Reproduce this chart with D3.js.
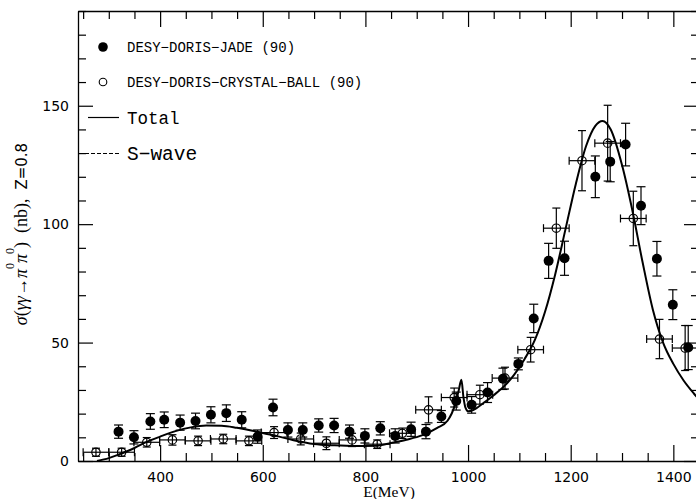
<!DOCTYPE html>
<html>
<head>
<meta charset="utf-8">
<script src="https://cdn.jsdelivr.net/npm/d3@7"></script>
<style>
  body { margin: 0; background: #fff; }
  svg { display: block; }
</style>
</head>
<body>
<svg id="chart" width="696" height="499"></svg>
<script>
// JADE (filled circles)
const jadeE = [319, 349, 381, 408, 439, 469, 499, 529, 559, 590, 620, 649, 678, 709, 739, 769, 799, 829, 858, 889, 918, 948, 977, 1007, 1038, 1068, 1098, 1128, 1157, 1188, 1248, 1277, 1307, 1337, 1368, 1399, 1429];
const jadeV = [12.4, 10.0, 16.7, 17.4, 16.2, 16.9, 19.5, 20.2, 17.4, 10.3, 22.6, 13.1, 13.1, 15.0, 15.0, 12.4, 10.6, 13.8, 10.6, 13.4, 12.4, 18.8, 25.3, 23.7, 28.9, 34.7, 41.0, 60.2, 84.5, 85.6, 120.0, 126.4, 133.6, 107.8, 85.4, 66.0, 47.9];
const jadeErr = [2.8, 2.8, 3.3, 3.3, 3.2, 3.3, 3.4, 3.5, 3.4, 2.8, 3.5, 3.0, 3.0, 2.8, 3.0, 2.8, 3.0, 2.8, 3.0, 3.0, 3.0, 2.5, 3.8, 3.5, 4.2, 4.5, 2.5, 6.0, 7.4, 7.2, 8.8, 8.5, 9.0, 8.0, 7.3, 6.3, 9.3];

// Crystal Ball (open circles, with energy bins)
const cbE = [275, 325, 374, 424, 474, 523, 573, 622, 674, 724, 774, 823, 872, 923, 973, 1023, 1072, 1122, 1172, 1222, 1272, 1322, 1373, 1423];
const cbV = [3.7, 3.7, 7.9, 8.9, 8.5, 9.3, 8.5, 12.0, 9.3, 7.5, 8.9, 7.1, 11.7, 21.6, 26.8, 28.0, 35.0, 47.0, 98.3, 126.8, 134.2, 102.4, 51.5, 47.7];
const cbErr = [1.7, 1.7, 2.0, 2.2, 2.0, 2.0, 2.0, 2.5, 2.5, 2.7, 2.8, 1.8, 2.2, 5.5, 4.0, 4.0, 4.6, 5.2, 8.5, 12.7, 16.0, 11.5, 8.3, 9.5];
const cbHalfBin = 25;

// Total curve
const totalE = [277, 300, 320, 350, 375, 400, 430, 460, 490, 520, 550, 580, 600, 630, 660, 700, 740, 780, 820, 850, 880, 910, 940, 960, 975, 982, 987, 991, 995, 1000, 1010, 1030, 1050, 1070, 1090, 1110, 1130, 1150, 1170, 1190, 1210, 1230, 1248, 1262, 1278, 1300, 1320, 1340, 1360, 1380, 1400, 1420, 1440, 1450];
const totalV = [0, 1.2, 2.8, 5.5, 8.2, 10.3, 12.6, 14.2, 15.0, 14.9, 14.0, 12.8, 11.8, 10.4, 8.8, 7.2, 6.6, 6.3, 6.4, 7.6, 9.0, 10.8, 14.0, 17.0, 24, 30, 34.3, 27, 22.5, 21.0, 21.5, 24.5, 27.8, 31.5, 36.5, 43, 51, 63, 79, 98, 117, 133, 141.5, 143.6, 140, 125, 106, 84, 64, 50, 41, 34, 28.5, 26];

const xMajor = [400, 600, 800, 1000, 1200, 1400];
const yMajor = [0, 50, 100, 150];

const svg = d3.select("#chart");
const x = d3.scaleLinear().domain([240, 1450]).range([78, 699]);
const y = d3.scaleLinear().domain([0, 190]).range([461, 11]);

const xMinor = d3.range(250, 1451, 50).filter(v => !xMajor.includes(v));
const yMinor = d3.range(0, 191, 10).filter(v => !yMajor.includes(v));

// axes, ticks pointing inward
function styleAxis(g) {
  g.select(".domain").attr("stroke", "#000").attr("stroke-width", 1.3);
  g.selectAll(".tick line").attr("stroke", "#000").attr("stroke-width", 1.2);
  g.selectAll(".tick text").attr("fill", "#000")
    .style("font-family", "'DejaVu Sans', sans-serif").style("font-size", "14px");
}

svg.append("g").attr("transform", "translate(0,461)")
  .call(d3.axisBottom(x).tickValues(xMajor).tickSize(-16).tickSizeOuter(0).tickPadding(11).tickFormat(d3.format("d")))
  .call(styleAxis);
svg.append("g").attr("transform", "translate(0,461)")
  .call(d3.axisBottom(x).tickValues(xMinor).tickSize(-8).tickFormat(""))
  .call(styleAxis).select(".domain").remove();

svg.append("g").attr("transform", "translate(0,11)")
  .call(d3.axisTop(x).tickValues(xMajor).tickSize(-16).tickSizeOuter(0).tickFormat(""))
  .call(styleAxis);
svg.append("g").attr("transform", "translate(0,11)")
  .call(d3.axisTop(x).tickValues(xMinor).tickSize(-8).tickFormat(""))
  .call(styleAxis).select(".domain").remove();

svg.append("g").attr("transform", "translate(78,0)")
  .call(d3.axisLeft(y).tickValues(yMajor).tickSize(-15).tickSizeOuter(0).tickPadding(9))
  .call(styleAxis);
svg.append("g").attr("transform", "translate(78,0)")
  .call(d3.axisLeft(y).tickValues(yMinor).tickSize(-8).tickFormat(""))
  .call(styleAxis).select(".domain").remove();

svg.append("g").attr("transform", "translate(699,0)")
  .call(d3.axisRight(y).tickValues(yMajor).tickSize(-15).tickSizeOuter(0).tickFormat(""))
  .call(styleAxis);
svg.append("g").attr("transform", "translate(699,0)")
  .call(d3.axisRight(y).tickValues(yMinor).tickSize(-8).tickFormat(""))
  .call(styleAxis).select(".domain").remove();

// axis titles
svg.append("text")
  .attr("x", 389).attr("y", 497)
  .attr("text-anchor", "middle")
  .style("font-family", "'Liberation Serif', serif").style("font-size", "15.5px")
  .text("E(MeV)");

const ylab = svg.append("text")
  .attr("transform", "translate(27,234) rotate(-90)")
  .attr("text-anchor", "middle")
  .style("white-space", "pre")
  .style("font-family", "'Liberation Serif', serif").style("font-size", "18px");
ylab.append("tspan").style("font-style", "italic").text("σ");
ylab.append("tspan").text("(");
ylab.append("tspan").style("font-style", "italic").text("γγ");
ylab.append("tspan").text("→");
ylab.append("tspan").style("font-style", "italic").text("π");
ylab.append("tspan").attr("dy", -13).style("font-size", "12px").text("0");
ylab.append("tspan").attr("dy", 13).style("font-style", "italic").text("π");
ylab.append("tspan").attr("dy", -13).style("font-size", "12px").text("0");
ylab.append("tspan").attr("dy", 13).text(")  (nb),  ");
ylab.append("tspan").style("font-family", "'DejaVu Sans', sans-serif").style("font-size", "15px").text("Z=0.8");

// total curve
const line = d3.line().x(d => x(d[0])).y(d => y(d[1])).curve(d3.curveMonotoneX);
svg.append("path")
  .datum(totalE.map((e, i) => [e, totalV[i]]))
  .attr("d", line)
  .attr("fill", "none").attr("stroke", "#000").attr("stroke-width", 2);

// Crystal Ball points
const cb = cbE.map((e, i) => ({ e, v: cbV[i], err: cbErr[i] }));
const cbG = svg.append("g").attr("stroke", "#000").attr("stroke-width", 1.2).attr("fill", "none");
cb.forEach(d => {
  const cx = x(d.e), cy = y(d.v);
  const x0 = x(d.e - cbHalfBin), x1 = x(d.e + cbHalfBin);
  const y0 = y(d.v - d.err), y1 = y(d.v + d.err);
  cbG.append("line").attr("x1", x0).attr("x2", x1).attr("y1", cy).attr("y2", cy);
  cbG.append("line").attr("x1", x0).attr("x2", x0).attr("y1", cy - 4).attr("y2", cy + 4);
  cbG.append("line").attr("x1", x1).attr("x2", x1).attr("y1", cy - 4).attr("y2", cy + 4);
  cbG.append("line").attr("x1", cx).attr("x2", cx).attr("y1", y0).attr("y2", y1);
  cbG.append("line").attr("x1", cx - 4).attr("x2", cx + 4).attr("y1", y0).attr("y2", y0);
  cbG.append("line").attr("x1", cx - 4).attr("x2", cx + 4).attr("y1", y1).attr("y2", y1);
  cbG.append("circle").attr("cx", cx).attr("cy", cy).attr("r", 4.2).attr("fill", "none");
});

// JADE points
const jade = jadeE.map((e, i) => ({ e, v: jadeV[i], err: jadeErr[i] }));
const jG = svg.append("g").attr("stroke", "#000").attr("stroke-width", 1.2);
jade.forEach(d => {
  const cx = x(d.e), cy = y(d.v);
  const y0 = y(d.v - d.err), y1 = y(d.v + d.err);
  jG.append("line").attr("x1", cx).attr("x2", cx).attr("y1", y0).attr("y2", y1);
  jG.append("line").attr("x1", cx - 4.5).attr("x2", cx + 4.5).attr("y1", y0).attr("y2", y0);
  jG.append("line").attr("x1", cx - 4.5).attr("x2", cx + 4.5).attr("y1", y1).attr("y2", y1);
  jG.append("circle").attr("cx", cx).attr("cy", cy).attr("r", 5).attr("fill", "#000").attr("stroke", "none");
});

// legend
const lg = svg.append("g").style("font-family", "'Liberation Mono', monospace");
lg.append("circle").attr("cx", 103).attr("cy", 47).attr("r", 4.8).attr("fill", "#000");
lg.append("text").attr("x", 127).attr("y", 51.5).style("font-size", "14px").text("DESY\u2212DORIS\u2212JADE (90)");
lg.append("circle").attr("cx", 103).attr("cy", 82).attr("r", 3.8).attr("fill", "none").attr("stroke", "#000").attr("stroke-width", 1.1);
lg.append("text").attr("x", 127).attr("y", 86.5).style("font-size", "14px").text("DESY\u2212DORIS\u2212CRYSTAL\u2212BALL (90)");
lg.append("line").attr("x1", 88).attr("x2", 119).attr("y1", 117.5).attr("y2", 117.5).attr("stroke", "#000").attr("stroke-width", 1.2);
lg.append("text").attr("x", 127).attr("y", 123.5).style("font-size", "17.5px").text("Total");
lg.append("line").attr("x1", 79).attr("x2", 119).attr("y1", 153.5).attr("y2", 153.5).attr("stroke", "#000").attr("stroke-width", 1.1).attr("stroke-dasharray", "4,2");
lg.append("text").attr("x", 127).attr("y", 159.5).style("font-size", "19.5px").text("S\u2212wave");
</script>
</body>
</html>
